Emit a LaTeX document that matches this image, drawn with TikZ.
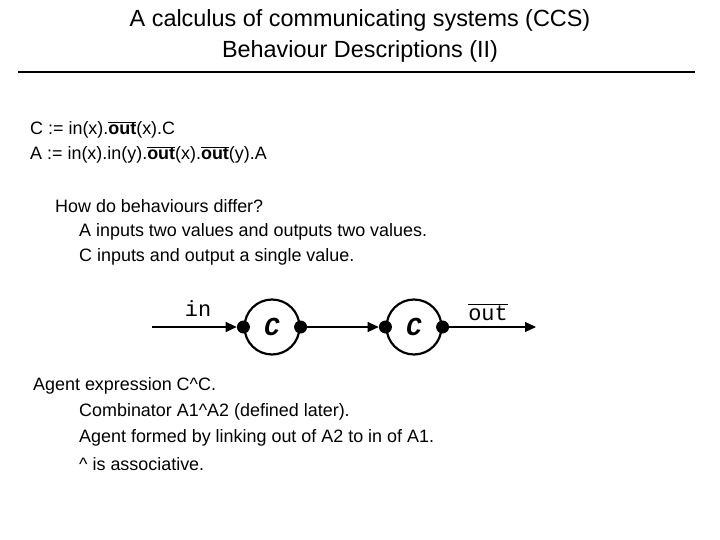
\documentclass[tikz,border=0pt]{standalone}
\usepackage{fontspec}
\setmainfont{Liberation Sans}
\newfontfamily\cour{Liberation Mono}
\usetikzlibrary{arrows.meta}
\begin{document}
\begin{tikzpicture}[x=1bp,y=-1bp,
  txt/.style={anchor=west,inner sep=0pt,font=\fontsize{18}{20}\selectfont},
  agent/.style={circle,draw,line width=2.2pt,minimum size=55bp,inner sep=0pt,font=\cour\bfseries\itshape\fontsize{26}{26}\selectfont},
  dot/.style={circle,fill,inner sep=0pt,minimum size=13bp},
  wire/.style={line width=1.1pt,-{Triangle[length=11bp,width=10bp]}},
  lab/.style={font=\cour\fontsize{22}{22}\selectfont,inner sep=0pt}]
\useasboundingbox (0,0) rectangle (720,540);
\node[font=\fontsize{23.5}{26}\selectfont] (t1) at (360,20) {A calculus of communicating systems (CCS)};
\node[font=\fontsize{23.5}{26}\selectfont] (t2) at (360,51) {Behaviour Descriptions (II)};
\draw[line width=2.5pt] (18,72) -- (695,72);
\node[txt] (l1) at (30,130) {C := in(x).\textbf{$\overline{\mbox{out}}$}(x).C};
\node[txt] (l2) at (30,155) {A := in(x).in(y).\textbf{$\overline{\mbox{out}}$}(x).\textbf{$\overline{\mbox{out}}$}(y).A};
\node[txt] (l3) at (55,206) {How do behaviours differ?};
\node[txt] (l4) at (79,232) {A inputs two values and outputs two values.};
\node[txt] (l5) at (79,257) {C inputs and output a single value.};
\node[agent] (c1) at (272,327) {C};
\node[agent] (c2) at (414,327) {C};
\node[dot] (d1) at (c1.west) {};
\node[dot] (d2) at (c1.east) {};
\node[dot] (d3) at (c2.west) {};
\node[dot] (d4) at (c2.east) {};
\coordinate (s) at (152,327);
\coordinate (e) at (536,327);
\draw[wire] (s) -- (d1.west);
\draw[wire] (d2.east) -- (d3.west);
\draw[wire] (d4.east) -- (e);
\node[lab] (in) at (198,309) {in};
\node[lab] (out) at (488,312) {$\overline{\mbox{out}}$};
\node[txt] (m1) at (33,386) {Agent expression C\textasciicircum C.};
\node[txt] (m2) at (79,412) {Combinator A1\textasciicircum A2 (defined later).};
\node[txt] (m3) at (79,438) {Agent formed by linking out of A2 to in of A1.};
\node[txt] (m4) at (79,464) {\textasciicircum\ is associative.};
\end{tikzpicture}
\end{document}
